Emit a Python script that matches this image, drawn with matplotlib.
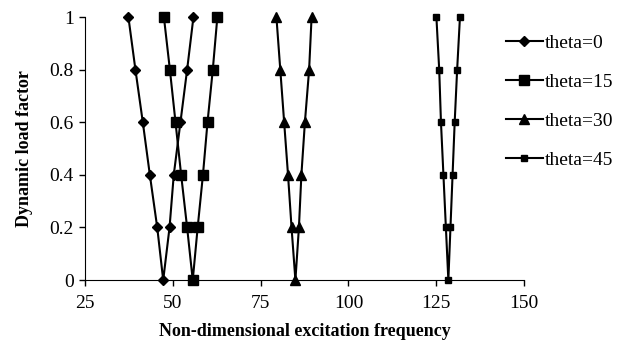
import matplotlib.pyplot as plt

# Dynamic load factor vs non-dimensional excitation frequency
load = [1, 0.8, 0.6, 0.4, 0.2, 0, 0.2, 0.4, 0.6, 0.8, 1]

freq_0 = [37.4, 39.4, 41.5, 43.5, 45.6, 47.3, 49.1, 50.3, 52.2, 54.1, 55.9]
freq_15 = [47.5, 49.2, 50.8, 52.4, 54.1, 55.7, 57.1, 58.6, 59.9, 61.4, 62.7]
freq_30 = [79.5, 80.6, 81.7, 82.8, 83.8, 84.9, 85.9, 86.6, 87.6, 88.8, 89.5]
freq_45 = [125.0, 125.8, 126.3, 127.0, 127.7, 128.4, 129.0, 129.6, 130.2, 130.9, 131.7]

labels = ['theta=0', 'theta=15', 'theta=30', 'theta=45']

plt.rcParams['font.family'] = ['Liberation Serif', 'DejaVu Serif']

fig = plt.figure(figsize=(6.19, 3.42), dpi=100)
ax = fig.add_axes([0.137, 0.181, 0.710, 0.769])

ax.plot(freq_0, load, color='black', lw=1.5, marker='D', ms=5, label=labels[0], clip_on=False, zorder=3)
ax.plot(freq_15, load, color='black', lw=1.5, marker='s', ms=7, label=labels[1], clip_on=False, zorder=3)
ax.plot(freq_30, load, color='black', lw=1.5, marker='^', ms=7, label=labels[2], clip_on=False, zorder=3)
ax.plot(freq_45, load, color='black', lw=1.5, marker='s', ms=5, label=labels[3], clip_on=False, zorder=3)

ax.set_xlim(25, 150)
ax.set_ylim(0, 1)
ax.set_xticks([25, 50, 75, 100, 125, 150])
ax.set_yticks([0, 0.2, 0.4, 0.6, 0.8, 1])
ax.set_yticklabels(['0', '0.2', '0.4', '0.6', '0.8', '1'])
ax.spines['top'].set_visible(False)
ax.spines['right'].set_visible(False)
ax.tick_params(direction='out', length=4, width=1, labelsize=14)
ax.tick_params(axis='x', pad=7)
ax.tick_params(axis='y', pad=4)

ax.set_xlabel('Non-dimensional excitation frequency', fontsize=13, fontweight='bold', labelpad=8)
ax.set_ylabel('Dynamic load factor', fontsize=13, fontweight='bold', labelpad=12)

ax.legend(loc='upper left', bbox_to_anchor=(506 / 619, 1 - 34 / 342), bbox_transform=fig.transFigure,
          frameon=False, fontsize=14, handlelength=1.9, handletextpad=0.1,
          labelspacing=1.1, borderaxespad=0, borderpad=0)

fig.savefig('out.png', dpi=100)
